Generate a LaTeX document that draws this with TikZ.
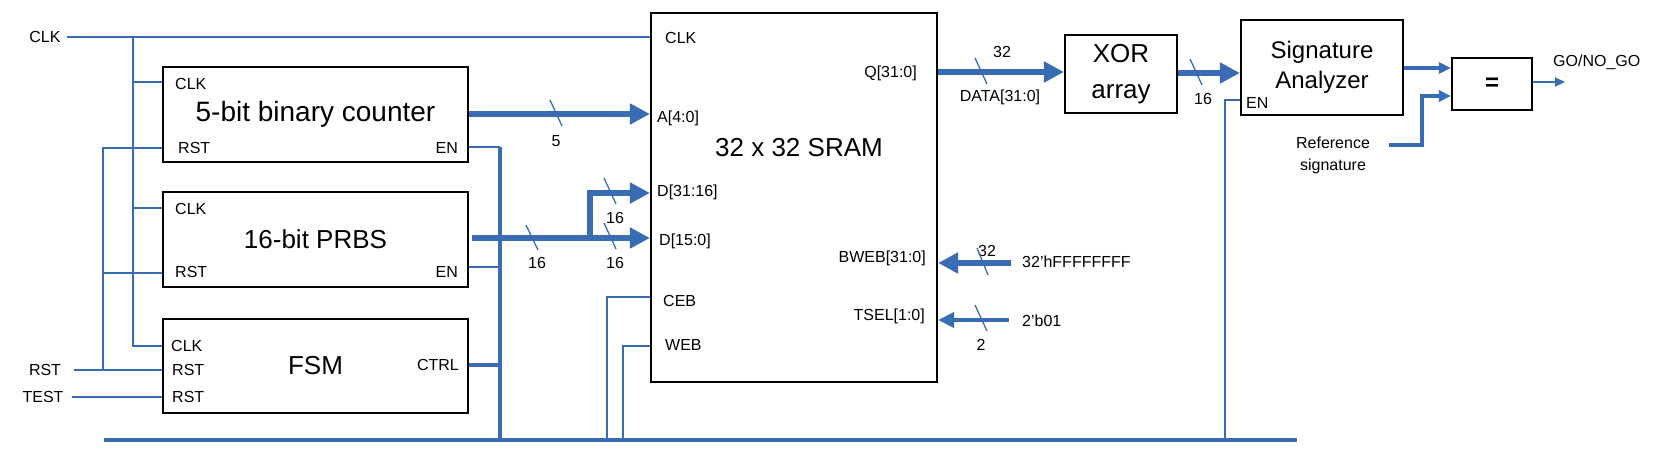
\documentclass[tikz,border=0pt]{standalone}
\usepackage{fontspec}
\setmainfont{Liberation Sans}
\usetikzlibrary{arrows.meta}
\definecolor{wire}{RGB}{58,108,180}
\newcommand\smf{\fontsize{16}{19}\selectfont}
\newcommand\bgf{\fontsize{26}{36}\selectfont}
\newcommand\cgf{\fontsize{28}{36}\selectfont}
\newcommand\sgf{\fontsize{24}{30}\selectfont}
\begin{document}
\begin{tikzpicture}[x=1pt,y=-1pt,
  blk/.style={draw=black, line width=2.2pt, inner sep=0pt, align=center},
  lbl/.style={inner sep=0pt, font=\smf},
  thin/.style={draw=wire, line width=1.8pt},
  envert/.style={draw=wire, line width=3.5pt},
  bus/.style={draw=wire, line width=6pt, -{Triangle[length=20pt,width=20pt]}},
  tselbus/.style={draw=wire, line width=4.5pt, -{Triangle[length=16pt,width=15pt]}},
  midbus/.style={draw=wire, line width=4pt, -{Triangle[length=12pt,width=11pt]}},
  outarr/.style={draw=wire, line width=2pt, -{Triangle[length=10pt,width=9pt]}},
  slash/.style={draw=wire, line width=1.3pt},
]
\useasboundingbox (0,0) rectangle (1670,460);

% blocks
\node[blk, minimum width=305pt, minimum height=95pt, font=\cgf] (cnt) at (315.5,114.5) {5-bit binary counter};
\node[blk, minimum width=305pt, minimum height=95pt, font=\bgf] (prbs) at (315.5,239.5) {16-bit PRBS};
\node[blk, minimum width=305pt, minimum height=94pt, font=\bgf] (fsm) at (315.5,366) {FSM};
\node[blk, minimum width=286pt, minimum height=369pt] (sram) at (794,197.5) {};
\node[blk, minimum width=112pt, minimum height=78pt, font=\bgf] (xor) at (1121,74) {XOR\\array};
\node[blk, minimum width=162pt, minimum height=95pt, font=\sgf] (sa) at (1322,67.5) {Signature\\Analyzer};
\node[blk, minimum width=80pt, minimum height=52pt, font=\sgf\bfseries] (eq) at (1492,84) {=};

% external labels
\node[lbl] (tclk) at (45,37) {CLK};
\node[lbl] (trst) at (45,370) {RST};
\node[lbl] (ttest) at (43,397) {TEST};

% counter ports
\node[lbl, anchor=west] (cclk) at (175,84) {CLK};
\node[lbl, anchor=west] (crst) at (178,148) {RST};
\node[lbl, anchor=east] (cen) at (458,148) {EN};
% prbs ports
\node[lbl, anchor=west] (pclk) at (175,209) {CLK};
\node[lbl, anchor=west] (prst) at (175,272) {RST};
\node[lbl, anchor=east] (pen) at (458,272) {EN};
% fsm ports
\node[lbl, anchor=west] (fclk) at (171,346) {CLK};
\node[lbl, anchor=west] (frst) at (172,370) {RST};
\node[lbl, anchor=west] (ftst) at (172,397) {RST};
\node[lbl, anchor=east] (fctrl) at (459,365) {CTRL};

% sram ports
\node[lbl, anchor=west] (sclk) at (665,38) {CLK};
\node[lbl, anchor=east] (sq) at (917,73) {Q[31:0]};
\node[lbl, anchor=west] (sa4) at (657,118) {A[4:0]};
\node[inner sep=0pt, font=\bgf] (stitle) at (799,148) {32 x 32 SRAM};
\node[lbl, anchor=west] (sdh) at (657,192) {D[31:16]};
\node[lbl, anchor=west] (sdl) at (659,241) {D[15:0]};
\node[lbl, anchor=east] (sbweb) at (926,258) {BWEB[31:0]};
\node[lbl, anchor=west] (sceb) at (663,301) {CEB};
\node[lbl, anchor=east] (stsel) at (925,316) {TSEL[1:0]};
\node[lbl, anchor=west] (sweb) at (665,345) {WEB};

% bus width labels
\node[lbl] (w5) at (556,141) {5};
\node[lbl] (w16a) at (537,263) {16};
\node[lbl] (w16b) at (615,218) {16};
\node[lbl] (w16c) at (615,263) {16};
\node[lbl] (w32) at (1002,52) {32};
\node[lbl] (wdata) at (1000,97) {DATA[31:0]};
\node[lbl] (w16d) at (1203,99) {16};
\node[lbl] (w32b) at (987,251) {32};
\node[lbl, anchor=west] (vff) at (1022,262) {32’hFFFFFFFF};
\node[lbl] (w2) at (981,345) {2};
\node[lbl, anchor=west] (v01) at (1022,321) {2’b01};

% right side labels
\node[lbl, anchor=west] (saen) at (1246,103) {EN};
\node[lbl, align=center] (refsig) at (1333,155) {Reference\\[3pt]signature};
\node[lbl, anchor=west] (gonogo) at (1553,62) {GO/NO\_GO};

% coordinates
\coordinate (clkin) at (67,37);
\coordinate (clkj) at (133,37);
\coordinate (rstin) at (74,370);
\coordinate (rstj) at (103,370);
\coordinate (testin) at (72,397);
\coordinate (enj) at (500,147);
\coordinate (enbot) at (500,440);
\coordinate (busl) at (104,440);
\coordinate (busr) at (1297,440);
\coordinate (prbsout) at (472,238);
\coordinate (brj) at (590,241);
\coordinate (brtop) at (590,193);
\coordinate (bwebin) at (1011,263);
\coordinate (tselin) at (1009,320);
\coordinate (refin) at (1389,145);
\coordinate (refj) at (1422,96);
\coordinate (goout) at (1565,82);

% clock
\draw[thin] (clkin) -- (sram.west |- clkin);
\draw[thin] (clkj) |- (cnt.west |- 0,82);
\draw[thin] (clkj) |- (prbs.west |- 0,208);
\draw[thin] (clkj) |- (fsm.west |- 0,346);
% reset
\draw[thin] (rstin) -- (fsm.west |- rstin);
\draw[thin] (rstj) |- (cnt.west |- 0,148);
\draw[thin] (rstj |- 0,273) -- (prbs.west |- 0,273);
\draw[thin] (testin) -- (fsm.west |- testin);

% enables
\draw[thin] (cnt.east |- enj) -- (enj);
\draw[envert] (enj) -- (enbot);
\draw[thin] (prbs.east |- 0,267) -- (enj |- 0,267);
\draw[draw=wire, line width=4pt] (fsm.east |- 0,365) -- (enj |- 0,365);
\draw[draw=wire, line width=4.5pt] (busl) -- (busr);
\draw[thin] (sram.west |- 0,297) -| (607,440);
\draw[thin] (sram.west |- 0,346) -| (623,440);
\draw[thin, line width=2.2pt] (sa.west |- 0,100) -| (1225,440);

% data buses
\draw[bus] (cnt.east |- 0,114) -- (sram.west |- 0,114);
\draw[bus] (prbsout) -- (sram.west |- prbsout);
\draw[bus] (brj) -- (brtop) -- (sram.west |- brtop);
\draw[bus] (sram.east |- 0,72) -- (xor.west |- 0,72);
\draw[bus] (xor.east |- 0,73) -- (sa.west |- 0,73);
\draw[bus] (bwebin) -- (sram.east |- bwebin);
\draw[tselbus] (tselin) -- (sram.east |- tselin);
\draw[midbus] (sa.east |- 0,68) -- (eq.west |- 0,68);
\draw[midbus] (refin) -| (refj) -- (eq.west |- refj);
\draw[outarr] (eq.east |- goout) -- (goout);

% bus width slashes
\draw[slash] (550,100) -- (562,126);
\draw[slash] (526,225) -- (538,250);
\draw[slash] (604,178) -- (616,204);
\draw[slash] (604,223) -- (616,249);
\draw[slash] (975,58) -- (987,84);
\draw[slash] (1190,59) -- (1202,85);
\draw[slash] (977,248) -- (988,275);
\draw[slash] (975,305) -- (987,331);
\end{tikzpicture}
\end{document}
